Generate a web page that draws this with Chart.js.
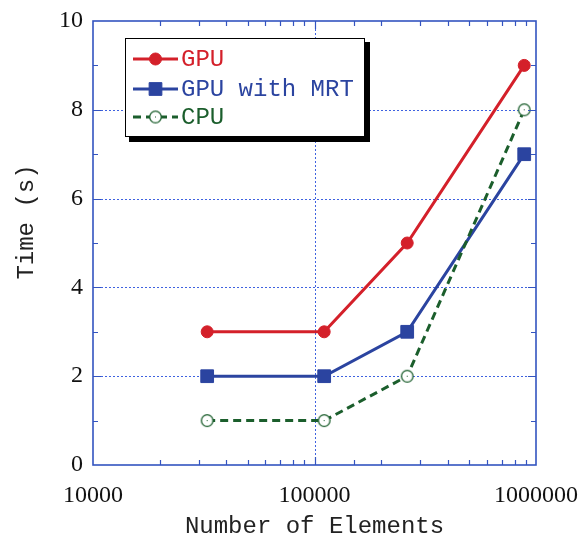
<!DOCTYPE html>
<html>
<head>
<meta charset="utf-8">
<script src="https://cdn.jsdelivr.net/npm/chart.js@4"></script>
<style>
html,body{margin:0;padding:0;background:#fff;}
#wrap{width:580px;height:546px;position:relative;}
</style>
</head>
<body>
<div id="wrap"><canvas id="c" width="580" height="546"></canvas></div>
<script>
// ---- data ----
const elements = [32768, 110592, 262144, 884736];
const gpu = [3, 3, 5, 9];
const gpuMrt = [2, 2, 3, 7];
const cpu = [1, 1, 2, 8];
const seriesNames = ['GPU', 'GPU with MRT', 'CPU'];
const xTickLabels = [10000, 100000, 1000000];
const yTickLabels = [0, 2, 4, 6, 8, 10];
const xTitle = 'Number of Elements';
const yTitle = 'Time (s)';

const RED = '#d4202a', BLUE = '#2b44a0', GREEN = '#1b5e2c', AXIS = '#3354c0', GRID = '#3f62e0';
const MONO = '"Liberation Mono", monospace';
const SERIF = '"Liberation Serif", serif';

function makeOpenCircle() {
  const cv = document.createElement('canvas');
  cv.width = 15; cv.height = 15;
  const g = cv.getContext('2d');
  g.beginPath(); g.arc(7.5, 7.5, 5.8, 0, Math.PI * 2);
  g.fillStyle = '#fff'; g.fill();
  g.lineWidth = 1.3; g.strokeStyle = GREEN; g.stroke();
  g.fillStyle = GREEN; g.fillRect(7, 7, 1, 1);
  return cv;
}
const openCircle = makeOpenCircle();

const toXY = (vals) => vals.map((v, i) => ({x: elements[i], y: v}));

const framePlugin = {
  id: 'frame',
  beforeDatasetsDraw(chart) {
    const {ctx, chartArea: a, scales: {x, y}} = chart;
    ctx.save();
    ctx.strokeStyle = GRID; ctx.lineWidth = 1; ctx.setLineDash([2, 2]);
    ctx.beginPath();
    x.ticks.forEach(t => {
      if (xTickLabels.includes(t.value) && t.value > x.min && t.value < x.max) {
        const px = Math.round(x.getPixelForValue(t.value)) + 0.5;
        ctx.moveTo(px, a.top); ctx.lineTo(px, a.bottom);
      }
    });
    y.ticks.forEach(t => {
      if (t.value > y.min && t.value < y.max) {
        const py = Math.round(y.getPixelForValue(t.value)) + 0.5;
        ctx.moveTo(a.left, py); ctx.lineTo(a.right, py);
      }
    });
    ctx.stroke();
    ctx.restore();
  },
  afterDatasetsDraw(chart) {
    const {ctx, chartArea: a, scales: {x, y}} = chart;
    ctx.save();
    ctx.strokeStyle = AXIS; ctx.lineWidth = 1.2; ctx.setLineDash([]);
    ctx.beginPath();
    x.ticks.forEach(t => {
      if (t.value > x.min && t.value < x.max) {
        const px = Math.round(x.getPixelForValue(t.value)) + 0.5;
        const len = xTickLabels.includes(t.value) ? 8 : 5;
        ctx.moveTo(px, a.bottom); ctx.lineTo(px, a.bottom - len);
        ctx.moveTo(px, a.top); ctx.lineTo(px, a.top + len);
      }
    });
    for (let v = y.min + 1; v < y.max; v++) {
      const py = Math.round(y.getPixelForValue(v)) + 0.5;
      const len = v % 2 === 0 ? 8 : 5;
      ctx.moveTo(a.left, py); ctx.lineTo(a.left + len, py);
      ctx.moveTo(a.right, py); ctx.lineTo(a.right - len, py);
    }
    ctx.stroke();
    ctx.lineWidth = 1.6;
    ctx.strokeRect(a.left, a.top, a.right - a.left, a.bottom - a.top);
    ctx.restore();
  },
  afterDraw(chart) {
    const ctx = chart.ctx;
    // y-axis title
    ctx.save();
    ctx.translate(27, 222);
    ctx.rotate(-Math.PI / 2);
    ctx.font = '24px ' + MONO;
    ctx.fillStyle = '#222';
    ctx.textAlign = 'center'; ctx.textBaseline = 'middle';
    ctx.fillText(yTitle, 0, 0);
    ctx.restore();
    // legend
    const bx = 125, by = 38, bw = 240, bh = 99;
    ctx.save();
    ctx.fillStyle = '#000';
    ctx.fillRect(bx + 4, by + 4, bw + 1, bh + 1);
    ctx.fillStyle = '#fff';
    ctx.fillRect(bx, by, bw, bh);
    ctx.strokeStyle = '#000'; ctx.lineWidth = 1;
    ctx.strokeRect(bx + 0.5, by + 0.5, bw - 1, bh - 1);
    const rows = [59, 89, 117];
    chart.data.datasets.forEach((ds, i) => {
      const yy = rows[i];
      ctx.save();
      ctx.strokeStyle = ds.borderColor; ctx.lineWidth = ds.borderWidth;
      ctx.setLineDash(ds.borderDash || []);
      ctx.beginPath(); ctx.moveTo(133, yy); ctx.lineTo(178, yy); ctx.stroke();
      ctx.setLineDash([]);
      ctx.fillStyle = ds.pointBackgroundColor; ctx.strokeStyle = ds.pointBorderColor;
      ctx.lineWidth = 1;
      Chart.helpers.drawPoint(ctx, {pointStyle: ds.pointStyle, radius: ds.pointRadius, rotation: 0, borderWidth: 1}, 155.5, yy);
      ctx.fillStyle = ds.borderColor;
      ctx.font = '24px ' + MONO;
      ctx.textBaseline = 'middle';
      ctx.textAlign = 'left';
      ctx.fillText(ds.label, 181, yy + 1);
      ctx.restore();
    });
    ctx.restore();
  }
};

new Chart(document.getElementById('c'), {
  type: 'line',
  data: {
    datasets: [
      {label: seriesNames[0], data: toXY(gpu), borderColor: RED, borderWidth: 3,
       pointStyle: 'circle', pointRadius: 6, pointBackgroundColor: RED, pointBorderColor: RED, pointBorderWidth: 1, order: 2},
      {label: seriesNames[1], data: toXY(gpuMrt), borderColor: BLUE, borderWidth: 3,
       pointStyle: 'rect', pointRadius: 9, pointBackgroundColor: BLUE, pointBorderColor: BLUE, pointBorderWidth: 1, order: 3},
      {label: seriesNames[2], data: toXY(cpu), borderColor: GREEN, borderWidth: 3, borderDash: [8, 5],
       pointStyle: openCircle, pointRadius: 6, pointBackgroundColor: '#fff', pointBorderColor: GREEN, pointBorderWidth: 1, order: 1}
    ]
  },
  options: {
    responsive: false,
    animation: false,
    layout: {padding: {left: 0, right: 44, top: 21, bottom: 0}},
    plugins: {legend: {display: false}, tooltip: {enabled: false}},
    elements: {line: {tension: 0}},
    scales: {
      x: {
        type: 'logarithmic', min: 10000, max: 1000000,
        grid: {display: false, drawTicks: false},
        border: {display: false},
        afterFit(s) { s.height = 81; s.paddingLeft = 0; s.paddingRight = 0; },
        ticks: {
          autoSkip: false, maxRotation: 0, padding: 16, color: '#111',
          font: {family: SERIF, size: 24},
          callback: (v) => xTickLabels.includes(v) ? String(v) : ''
        },
        title: {display: true, text: xTitle, color: '#222',
          font: {family: MONO, size: 24}, padding: {top: 0, bottom: 5}}
      },
      y: {
        type: 'linear', min: 0, max: 10,
        grid: {display: false, drawTicks: false},
        border: {display: false},
        afterFit(s) { s.width = 93; s.paddingTop = 0; s.paddingBottom = 0; },
        ticks: {
          stepSize: 2, padding: 10, color: '#111',
          font: {family: SERIF, size: 24},
          callback: (v) => yTickLabels.includes(v) ? String(v) : ''
        },
        title: {display: false}
      }
    }
  },
  plugins: [framePlugin]
});
</script>
</body>
</html>
